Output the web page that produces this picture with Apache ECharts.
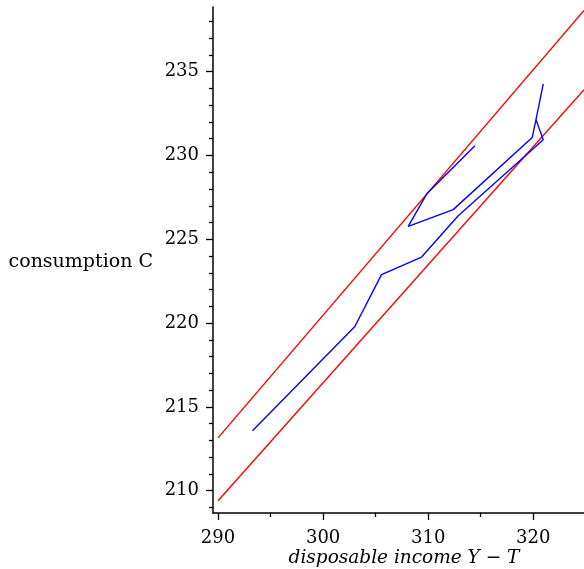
<!DOCTYPE html>
<html>
<head>
<meta charset="utf-8">
<script src="https://cdn.jsdelivr.net/npm/echarts@6/dist/echarts.min.js"></script>
<style>html,body{margin:0;padding:0;background:#fff;}#c{width:584px;height:569px;}</style>
</head>
<body>
<div id="c"></div>
<script>
// Observed path (disposable income Y-T, consumption C)
var income      = [293.28, 303.02, 305.56, 309.37, 312.86, 320.95, 320.26, 320.95, 320.26, 319.90, 312.38, 308.10, 309.85, 314.45];
var consumption = [213.58, 219.80, 222.89, 223.94, 226.41, 230.94, 232.14, 234.27, 232.14, 231.08, 226.77, 225.77, 227.70, 230.58];
// Red reference lines (endpoints)
var upperX = [290, 324.83];
var upperY = [213.15, 238.65];
var lowerX = [290, 324.83];
var lowerY = [209.40, 233.93];
// Axis ticks
var xMajorTicks = [290, 300, 310, 320];
var xMinorTicks = [295, 305, 315];
var yMajorTicks = [210, 215, 220, 225, 230, 235];
var yMinorTicks = [209, 211, 212, 213, 214, 216, 217, 218, 219, 221, 222, 223, 224, 226, 227, 228, 229, 231, 232, 233, 234, 236, 237, 238];
var xRange = [289.52, 324.83];
var yRange = [208.67, 238.86];
var xTitle = 'disposable income Y \u2212 T';
var yTitle = 'consumption C';

function pairs(xs, ys) { return xs.map(function (x, i) { return [x, ys[i]]; }); }

var font = 'DejaVu Serif';
var chart = echarts.init(document.getElementById('c'), null, { renderer: 'canvas' });
var axisLine = { show: true, lineStyle: { color: '#000', width: 1.5 } };
chart.setOption({
  animation: false,
  backgroundColor: '#fff',
  grid: { left: 213, top: 7, right: 0, bottom: 56, containLabel: false, outerBoundsMode: 'none' },
  xAxis: [
    {
      type: 'value', min: xRange[0], max: xRange[1], position: 'bottom',
      axisLine: axisLine, splitLine: { show: false },
      axisTick: { show: true, length: 7, customValues: xMajorTicks, lineStyle: { color: '#000', width: 1.3 } },
      axisLabel: { show: true, customValues: xMajorTicks, margin: 16, color: '#000', fontFamily: font, fontSize: 18 },
      name: xTitle, nameLocation: 'middle', nameGap: 36, nameMoveOverlap: false,
      nameTextStyle: { fontFamily: font, fontStyle: 'italic', fontSize: 18.5, color: '#000', padding: [0, 0, 0, 11] }
    },
    {
      type: 'value', min: xRange[0], max: xRange[1], position: 'bottom',
      axisLine: { show: false }, splitLine: { show: false },
      axisTick: { show: true, length: 4, customValues: xMinorTicks, lineStyle: { color: '#000', width: 1.3 } },
      axisLabel: { show: false }
    }
  ],
  yAxis: [
    {
      type: 'value', min: yRange[0], max: yRange[1], position: 'left',
      axisLine: axisLine, splitLine: { show: false },
      axisTick: { show: true, length: 7, customValues: yMajorTicks, lineStyle: { color: '#000', width: 1.3 } },
      axisLabel: { show: true, customValues: yMajorTicks, margin: 14, color: '#000', fontFamily: font, fontSize: 18 },
      name: yTitle, nameLocation: 'middle', nameRotate: 0, nameGap: 60, nameMoveOverlap: false,
      nameTextStyle: { fontFamily: font, fontSize: 19, color: '#000', align: 'right', verticalAlign: 'top', padding: [-7, 0, 0, 0] }
    },
    {
      type: 'value', min: yRange[0], max: yRange[1], position: 'left',
      axisLine: { show: false }, splitLine: { show: false },
      axisTick: { show: true, length: 4, customValues: yMinorTicks, lineStyle: { color: '#000', width: 1.3 } },
      axisLabel: { show: false }
    }
  ],
  series: [
    { type: 'line', data: pairs(upperX, upperY), showSymbol: false, lineStyle: { color: '#ff0000', width: 1.4 }, silent: true },
    { type: 'line', data: pairs(lowerX, lowerY), showSymbol: false, lineStyle: { color: '#ff0000', width: 1.4 }, silent: true },
    { type: 'line', data: pairs(income, consumption), showSymbol: false, lineStyle: { color: '#0000ff', width: 1.4 }, silent: true }
  ]
});
</script>
</body>
</html>
